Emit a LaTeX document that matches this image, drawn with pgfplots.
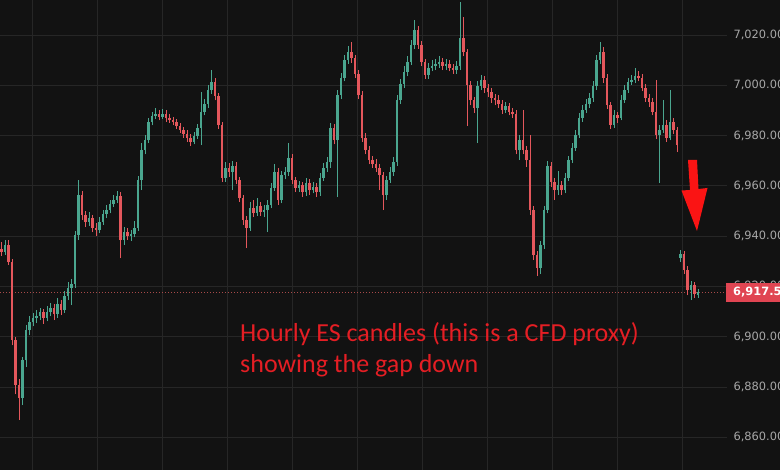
\documentclass[border=0pt]{standalone}
\usepackage{pgfplots}
\usepackage{pgfplotstable}
\usepackage{fontspec}
\pgfplotsset{compat=1.18}
\setmainfont{Carlito}
\newfontfamily\tickfont{DejaVu Sans}

\definecolor{bgc}{HTML}{121212}
\definecolor{gridc}{HTML}{262626}
\definecolor{tickc}{HTML}{A8A8A8}
\definecolor{upc}{HTML}{4AA68F}
\definecolor{dnc}{HTML}{E4575C}
\definecolor{pricec}{HTML}{A84A4A}
\definecolor{boxc}{HTML}{E04552}
\definecolor{notec}{HTML}{E41E24}
\definecolor{arrowc}{HTML}{FA1414}

% hourly candles, index o h l c  (rising candles)
\pgfplotstableread{
i o h l c
1 6933.6 6938.5 6932.5 6936.4
6 6875.5 6892.0 6872.7 6890.6
7 6890.6 6904.5 6888.0 6902.6
8 6902.6 6908.0 6900.5 6905.8
9 6905.8 6909.5 6904.0 6907.4
10 6907.4 6910.5 6905.5 6908.2
11 6908.2 6911.5 6906.5 6909.8
13 6907.4 6912.0 6906.0 6909.8
14 6909.8 6913.5 6908.0 6911.4
16 6909.0 6915.5 6907.5 6913.0
18 6910.5 6918.0 6909.5 6916.1
19 6916.1 6921.5 6914.5 6919.3
20 6919.3 6923.0 6912.5 6920.9
21 6920.9 6942.0 6919.5 6940.4
22 6940.4 6962.3 6938.5 6956.3
25 6945.6 6949.5 6944.0 6947.2
28 6942.4 6947.5 6941.0 6945.6
29 6945.6 6950.5 6944.5 6948.8
30 6948.8 6952.5 6947.0 6950.4
31 6950.4 6954.5 6949.0 6952.7
32 6952.7 6956.5 6951.5 6954.3
33 6954.3 6958.0 6953.0 6955.9
35 6938.4 6943.5 6936.5 6941.6
37 6940.0 6942.5 6938.0 6940.8
38 6940.8 6946.0 6939.5 6943.2
39 6943.2 6964.0 6942.0 6962.3
40 6962.3 6977.0 6958.3 6974.2
41 6974.2 6980.0 6972.5 6978.2
42 6978.2 6987.0 6977.0 6985.4
43 6985.4 6989.5 6984.0 6987.8
44 6987.8 6991.0 6986.5 6988.6
46 6987.4 6990.5 6986.5 6988.6
55 6977.4 6981.5 6976.5 6979.8
56 6979.8 6984.5 6978.5 6983.0
57 6983.0 6997.3 6976.2 6989.4
58 6989.4 6994.5 6988.0 6992.5
59 6992.5 7000.0 6991.0 6998.1
60 6998.1 7006.1 6996.5 7001.3
64 6963.1 6969.5 6961.5 6967.1
66 6965.5 6970.0 6958.3 6967.9
71 6943.2 6953.5 6942.0 6951.1
73 6949.2 6955.0 6948.0 6951.9
75 6949.6 6952.5 6947.5 6950.4
76 6950.4 6954.5 6941.6 6952.3
77 6952.3 6961.0 6951.0 6959.1
78 6959.1 6968.6 6958.0 6965.5
80 6954.3 6966.0 6953.0 6964.3
81 6964.3 6967.5 6962.5 6965.5
82 6965.5 6977.0 6964.0 6971.0
85 6959.1 6962.0 6957.5 6960.3
87 6957.5 6963.0 6956.0 6961.1
89 6958.3 6961.5 6957.0 6959.5
91 6957.5 6965.0 6956.0 6963.1
92 6963.1 6969.0 6962.0 6967.1
93 6967.1 6971.5 6965.5 6969.4
94 6969.4 6985.0 6967.1 6983.0
96 6978.2 6998.0 6955.5 6996.1
97 6996.1 7005.0 6994.5 7002.9
98 7002.9 7012.0 7001.5 7010.0
99 7010.0 7015.5 7008.5 7013.2
110 6956.3 6964.0 6954.5 6962.3
111 6962.3 6967.5 6961.0 6965.5
112 6965.5 6971.5 6964.0 6969.4
113 6969.4 6996.0 6968.0 6994.1
114 6994.1 7002.5 6992.5 7000.5
115 7000.5 7007.5 6999.0 7005.3
116 7005.3 7011.5 7003.5 7009.2
117 7009.2 7018.0 7008.0 7016.0
118 7016.0 7026.0 7014.5 7022.0
122 7004.1 7009.0 7002.5 7006.9
123 7006.9 7010.0 7005.5 7007.7
124 7007.7 7010.5 7006.0 7008.5
125 7008.5 7011.5 7007.0 7009.2
127 7007.7 7010.5 7006.0 7008.5
130 7006.1 7009.5 7004.5 7007.7
131 7007.7 7033.1 7006.0 7018.8
136 6990.9 7001.5 6977.0 6999.7
137 6999.7 7004.0 6998.0 7002.1
144 6990.2 6993.5 6989.0 6991.7
148 6974.2 6980.0 6970.2 6978.2
154 6927.3 6938.0 6925.0 6936.4
155 6936.4 6952.0 6935.0 6950.4
156 6950.4 6970.0 6949.0 6967.9
159 6958.3 6966.0 6956.5 6960.3
161 6958.3 6965.0 6957.0 6963.1
162 6963.1 6972.0 6962.0 6970.2
163 6970.2 6977.0 6969.0 6975.0
164 6975.0 6982.0 6974.0 6980.2
165 6980.2 6989.0 6979.0 6987.0
166 6987.0 6992.0 6985.5 6990.2
167 6990.2 6994.5 6989.0 6992.5
168 6992.5 6997.0 6991.0 6994.9
169 6994.9 7001.5 6993.5 6999.7
170 6999.7 7012.0 6998.0 7010.0
171 7010.0 7017.2 7008.5 7013.2
175 6984.2 6990.0 6983.0 6988.2
177 6987.0 6996.0 6986.0 6994.1
178 6994.1 7000.0 6993.0 6998.1
179 6998.1 7003.0 6997.0 7001.3
180 7001.3 7004.0 7000.0 7002.1
181 7002.1 7006.9 7001.0 7003.7
188 6980.2 6984.0 6961.1 6982.2
189 6982.2 6994.1 6981.0 6984.2
191 6979.0 6998.1 6978.0 6985.4
194 6931.2 6934.4 6929.6 6932.8
197 6918.5 6922.0 6914.5 6920.5
199 6916.5 6919.0 6915.5 6917.53
}\upcandles

% falling candles
\pgfplotstableread{
i o h l c
0 6935.0 6937.5 6932.0 6933.6
2 6936.4 6938.4 6928.5 6929.6
3 6929.6 6931.0 6896.5 6898.6
4 6898.6 6900.0 6877.0 6880.7
5 6880.7 6883.0 6866.8 6875.5
12 6909.8 6911.0 6905.0 6907.4
15 6911.4 6913.0 6906.5 6909.0
17 6913.0 6914.5 6908.5 6910.5
23 6956.3 6958.0 6946.5 6948.4
24 6948.4 6950.0 6943.5 6945.6
26 6947.2 6948.5 6941.5 6943.2
27 6943.2 6945.0 6940.0 6942.4
34 6955.9 6957.5 6931.2 6938.4
36 6941.6 6943.0 6938.5 6940.0
45 6988.6 6990.2 6986.0 6987.4
47 6988.6 6990.0 6985.5 6987.0
48 6987.0 6988.5 6985.0 6986.2
49 6986.2 6987.5 6984.0 6985.4
50 6985.4 6986.5 6982.5 6983.8
51 6983.8 6985.0 6981.0 6982.2
52 6982.2 6983.5 6979.0 6980.6
53 6980.6 6982.0 6977.5 6979.0
54 6979.0 6980.5 6976.0 6977.4
61 7001.3 7003.0 6994.0 6995.7
62 6995.7 6997.0 6982.5 6984.2
63 6984.2 6985.5 6961.5 6963.1
65 6967.1 6969.0 6963.5 6965.5
67 6967.9 6969.5 6960.5 6962.3
68 6962.3 6963.5 6953.5 6955.1
69 6955.1 6956.5 6944.5 6946.4
70 6946.4 6948.0 6935.2 6943.2
72 6951.1 6954.3 6947.5 6949.2
74 6951.9 6953.5 6948.0 6949.6
79 6965.5 6967.0 6952.5 6954.3
83 6971.0 6972.5 6960.5 6962.3
84 6962.3 6963.5 6957.5 6959.1
86 6960.3 6961.5 6955.5 6957.5
88 6961.1 6962.5 6956.5 6958.3
90 6959.5 6961.0 6955.5 6957.5
95 6983.0 6984.5 6976.5 6978.2
100 7013.2 7017.2 7009.0 7010.8
101 7010.8 7012.0 7003.0 7004.5
102 7004.5 7006.0 6994.5 6996.1
103 6996.1 6997.5 6977.5 6979.0
104 6979.0 6981.0 6972.5 6974.2
105 6974.2 6976.0 6968.5 6970.2
106 6970.2 6972.0 6967.0 6968.6
107 6968.6 6970.5 6965.5 6967.1
108 6967.1 6968.5 6958.3 6964.3
109 6964.3 6965.5 6950.4 6956.3
119 7022.0 7023.5 7014.5 7016.0
120 7016.0 7017.5 7007.5 7009.2
121 7009.2 7010.5 7002.5 7004.1
126 7009.2 7011.0 7006.0 7007.7
128 7008.5 7010.0 7005.5 7006.9
129 7006.9 7008.5 7004.5 7006.1
132 7018.8 7027.0 7011.5 7013.2
133 7013.2 7014.5 6983.8 7000.1
134 7000.1 7001.5 6992.0 6994.1
135 6994.1 6995.5 6989.0 6990.9
138 7002.1 7003.5 6997.0 6998.9
139 6998.9 7000.5 6995.5 6997.3
140 6997.3 6999.0 6993.0 6994.9
141 6994.9 6996.5 6992.0 6994.1
142 6994.1 6996.0 6991.0 6992.5
143 6992.5 6994.0 6988.5 6990.2
145 6991.7 6993.0 6988.0 6989.4
146 6989.4 6991.0 6987.0 6988.6
147 6988.6 6990.0 6972.5 6974.2
149 6978.2 6990.0 6972.5 6974.2
150 6974.2 6976.0 6967.5 6970.2
151 6970.2 6980.0 6948.5 6950.4
152 6950.4 6952.0 6930.5 6932.4
153 6932.4 6934.0 6924.1 6927.3
157 6967.9 6969.5 6959.5 6961.5
158 6961.5 6963.0 6954.5 6958.3
160 6960.3 6962.0 6956.5 6958.3
172 7013.2 7015.0 7001.0 7002.9
173 7002.9 7004.5 6990.5 6992.1
174 6992.1 6993.5 6982.5 6984.2
176 6988.2 6989.5 6985.0 6987.0
182 7003.7 7005.5 7001.5 7002.9
183 7002.9 7004.5 6997.5 6998.9
184 6998.9 7000.5 6993.5 6994.9
185 6994.9 6996.5 6991.5 6993.3
186 6993.3 6995.0 6988.0 6989.4
187 6989.4 7002.1 6978.5 6980.2
190 6984.2 6986.0 6977.5 6979.0
192 6985.4 6987.0 6980.5 6982.2
193 6982.2 6983.5 6973.4 6976.2
195 6932.8 6934.0 6925.0 6926.5
196 6926.5 6928.0 6916.5 6918.5
198 6920.5 6921.5 6915.5 6916.9
}\downcandles

\begin{document}
\begin{tikzpicture}
\path[use as bounding box] (0,0) rectangle (780pt,470pt);
\fill[bgc] (0,0) rectangle (780pt,470pt);
\begin{axis}[
  at={(0,0)}, anchor=south west,
  scale only axis, width=727pt, height=470pt,
  xmin=-0.4286, xmax=207.29,
  ymin=6846.9, ymax=7033.9,
  axis line style={draw=none},
  tick style={draw=none},
  xtick={8.71,27.29,45.86,64.43,83.0,101.57,120.14,138.71,157.29,175.86,194.43},
  xticklabels={},
  ytick={6860,6880,...,7020},
  yticklabel pos=right,
  scaled y ticks=false,
  y tick label style={font=\tickfont\fontsize{11.4}{13}\selectfont, text=tickc, anchor=west, xshift=3pt,
    /pgf/number format/fixed, /pgf/number format/fixed zerofill,
    /pgf/number format/precision=2, /pgf/number format/1000 sep={,},
    /pgf/number format/assume math mode=true},
  grid=major,
  major grid style={draw=gridc, line width=0.6pt},
]
% last-price line
\addplot[pricec, line width=0.7pt, dash pattern=on 1pt off 2pt, forget plot]
  coordinates {(-0.4286,6917.53) (207.29,6917.53)};
% wicks
\addplot[draw=none, mark=none, forget plot,
  error bars/.cd, y dir=plus, y explicit, error mark=none,
  error bar style={draw=upc, line width=0.9pt}]
  table[x=i, y=l, y error expr=\thisrow{h}-\thisrow{l}] {\upcandles};
\addplot[draw=none, mark=none, forget plot,
  error bars/.cd, y dir=plus, y explicit, error mark=none,
  error bar style={draw=dnc, line width=0.9pt}]
  table[x=i, y=l, y error expr=\thisrow{h}-\thisrow{l}] {\downcandles};
% bodies
\addplot[draw=none, mark=none, forget plot,
  error bars/.cd, y dir=plus, y explicit, error mark=none,
  error bar style={draw=upc, line width=2.8pt}]
  table[x=i, y=o, y error expr={max(\thisrow{c}-\thisrow{o},0.5)}] {\upcandles};
\addplot[draw=none, mark=none, forget plot,
  error bars/.cd, y dir=plus, y explicit, error mark=none,
  error bar style={draw=dnc, line width=2.8pt}]
  table[x=i, y=c, y error expr={max(\thisrow{o}-\thisrow{c},0.5)}] {\downcandles};
\coordinate (lastpx) at (axis cs:207.29,6917.53);
\end{axis}
% last price tag
\node[anchor=west, fill=boxc, text=white, inner xsep=7pt, inner ysep=0pt,
  minimum height=19pt, font=\tickfont\bfseries\fontsize{11.4}{13}\selectfont]
  at ([xshift=-1pt]lastpx) {6,917.53};
% annotation and arrow
\begin{scope}[yshift=470pt, x=1pt, y=-1pt]
\fill[arrowc] (688,160) -- (697,160) -- (698.5,189) -- (707.5,188)
  -- (697,231) -- (681.5,190.5) -- (690,190) -- cycle;
\node[anchor=base west, inner sep=0pt, text=notec, font=\fontsize{26}{31}\selectfont]
  at (240,342) {Hourly ES candles (this is a CFD proxy)};
\node[anchor=base west, inner sep=0pt, text=notec, font=\fontsize{26}{31}\selectfont]
  at (240,373) {showing the gap down};
\end{scope}
\end{tikzpicture}
\end{document}
